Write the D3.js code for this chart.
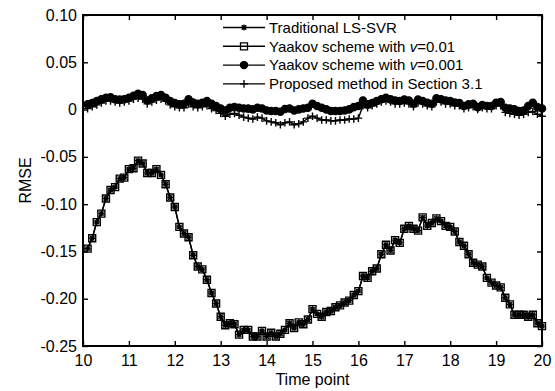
<!DOCTYPE html>
<html>
<head>
<meta charset="utf-8">
<script src="https://cdn.jsdelivr.net/npm/d3@7"></script>
<style>
  body { margin: 0; background: #fff; }
  svg { font-family: "Liberation Sans", Arial, Helvetica, sans-serif; }
</style>
</head>
<body>
<svg width="555" height="391"></svg>
<script>
// x categories: 10.1 .. 20.0 in steps of 0.1
const timePoints = d3.range(1, 101).map(i => +(10 + i / 10).toFixed(1));

const xTicks = [10, 11, 12, 13, 14, 15, 16, 17, 18, 19, 20];
const yTicks = [0.10, 0.05, 0, -0.05, -0.10, -0.15, -0.20, -0.25];

// Yaakov scheme, v=0.01 (squares)
const yaakovNu01 = [
  -0.147, -0.136, -0.119, -0.110, -0.094, -0.085, -0.082, -0.073, -0.072, -0.063,
  -0.062, -0.054, -0.057, -0.067, -0.067, -0.063, -0.069, -0.079, -0.093, -0.103,
  -0.124, -0.131, -0.135, -0.154, -0.166, -0.169, -0.180, -0.194, -0.205, -0.219,
  -0.228, -0.226, -0.227, -0.238, -0.233, -0.233, -0.240, -0.240, -0.234, -0.240,
  -0.236, -0.240, -0.237, -0.233, -0.226, -0.231, -0.225, -0.227, -0.222, -0.211,
  -0.216, -0.219, -0.214, -0.213, -0.209, -0.207, -0.204, -0.202, -0.196, -0.192,
  -0.176, -0.178, -0.171, -0.168, -0.153, -0.143, -0.149, -0.138, -0.141, -0.126,
  -0.123, -0.126, -0.128, -0.114, -0.123, -0.120, -0.115, -0.118, -0.123, -0.124,
  -0.129, -0.140, -0.144, -0.153, -0.162, -0.164, -0.166, -0.178, -0.183, -0.186,
  -0.188, -0.199, -0.206, -0.217, -0.217, -0.217, -0.219, -0.217, -0.226, -0.229
];

// Traditional LS-SVR sits right under the v=0.01 curve in the picture
const traditional = yaakovNu01.slice();

// Yaakov scheme, v=0.001 (filled circles)
const yaakovNu001 = [
  0.0055, 0.0070, 0.0090, 0.0110, 0.0125, 0.0130, 0.0110, 0.0105, 0.0110, 0.0125,
  0.0147, 0.0167, 0.0153, 0.0097, 0.0120, 0.0143, 0.0153, 0.0125, 0.0090, 0.0070,
  0.0055, 0.0062, 0.0108, 0.0075, 0.0062, 0.0072, 0.0090, 0.0062, 0.0037, 0.0012,
  -0.0009, 0.0019, 0.0026, 0.0019, 0.0012, 0.0010, 0.0002, 0.0019, 0.0012, -0.0009,
  -0.0016, -0.0016, -0.0023, 0.0006, 0.0012, -0.0009, 0.0002, 0.0012, 0.0019, 0.0062,
  0.0037, 0.0019, 0.0002, -0.0016, -0.0016, -0.0016, -0.0009, 0.0002, 0.0026, 0.0037,
  0.0097, 0.0055, 0.0070, 0.0090, 0.0110, 0.0125, 0.0108, 0.0097, 0.0090, 0.0105,
  0.0097, 0.0062, 0.0105, 0.0090, 0.0072, 0.0062, 0.0120, 0.0110, 0.0097, 0.0090,
  0.0075, 0.0070, 0.0037, 0.0055, 0.0062, 0.0026, 0.0048, 0.0037, 0.0037, 0.0072,
  0.0080, 0.0019, 0.0012, 0.0002, -0.0016, -0.0009, 0.0037, 0.0072, 0.0026, 0.0012
];

// Proposed method in Section 3.1 (plus)
const proposed = [
  0.001, 0.003, 0.005, 0.007, 0.009, 0.009, 0.008, 0.007, 0.008, 0.009,
  0.011, 0.012, 0.011, 0.006, 0.008, 0.010, 0.011, 0.009, 0.005, 0.003,
  0.002, 0.002, 0.006, 0.003, 0.002, 0.003, 0.004, 0.001, -0.001, -0.004,
  -0.007, -0.005, -0.004, -0.006, -0.008, -0.009, -0.010, -0.008, -0.009, -0.012,
  -0.013, -0.014, -0.016, -0.014, -0.013, -0.016, -0.015, -0.013, -0.009, -0.007,
  -0.009, -0.011, -0.011, -0.012, -0.012, -0.011, -0.011, -0.010, -0.010, -0.009,
  0.004, 0.002, 0.004, 0.006, 0.008, 0.009, 0.008, 0.006, 0.006, 0.007,
  0.006, 0.003, 0.007, 0.006, 0.004, 0.003, 0.008, 0.008, 0.006, 0.006,
  0.004, 0.004, 0.001, 0.002, 0.003, 0.000, 0.002, 0.001, 0.001, 0.004,
  0.004, -0.003, -0.004, -0.005, -0.006, -0.005, -0.003, -0.002, -0.005, -0.007
];

const seriesNames = [
  ['Traditional LS-SVR'],
  ['Yaakov scheme with ', 'v', '=0.01'],
  ['Yaakov scheme with ', 'v', '=0.001'],
  ['Proposed method in Section 3.1']
];

// marker paths, centred on 0,0
const markers = {
  asterisk: 'M-3,0H3M0,-3V3M-2.2,-2.2L2.2,2.2M-2.2,2.2L2.2,-2.2',
  square: 'M-3.5,-3.5H3.5V3.5H-3.5Z',
  circle: d3.symbol(d3.symbolCircle, 40)(),
  plus: 'M-3.8,0H3.8M0,-3.8V3.8'
};

const series = [
  {values: traditional, marker: 'asterisk', fill: 'none'},
  {values: yaakovNu01, marker: 'square', fill: 'none'},
  {values: yaakovNu001, marker: 'circle', fill: '#000'},
  {values: proposed, marker: 'plus', fill: 'none'}
];

const svg = d3.select('svg');
const margin = {top: 15, right: 13, bottom: 45, left: 83};
const width = +svg.attr('width') - margin.left - margin.right;
const height = +svg.attr('height') - margin.top - margin.bottom;
const g = svg.append('g').attr('transform', `translate(${margin.left},${margin.top})`);

const x = d3.scaleLinear().domain([10, 20]).range([0, width]);
const y = d3.scaleLinear().domain([-0.25, 0.10]).range([height, 0]);

const fmtY = d => d === 0 ? '0' : d.toFixed(2);

// axes, MATLAB style: inward ticks on all four sides
function styleAxis (sel) {
  sel.select('.domain').remove();
  sel.selectAll('.tick line').attr('stroke', '#000').attr('stroke-width', 1.4);
  sel.selectAll('.tick text').attr('fill', '#000').attr('font-size', 16);
}

g.append('g')
  .attr('transform', `translate(0,${height})`)
  .call(d3.axisBottom(x).tickValues(xTicks).tickFormat(d3.format('d')).tickSizeInner(-5).tickSizeOuter(0).tickPadding(9))
  .call(styleAxis);
g.append('g')
  .call(d3.axisTop(x).tickValues(xTicks).tickFormat('').tickSizeInner(-5).tickSizeOuter(0))
  .call(styleAxis);
g.append('g')
  .call(d3.axisLeft(y).tickValues(yTicks).tickFormat(fmtY).tickSizeInner(-5).tickSizeOuter(0).tickPadding(6))
  .call(styleAxis);
g.append('g')
  .attr('transform', `translate(${width},0)`)
  .call(d3.axisRight(y).tickValues(yTicks).tickFormat('').tickSizeInner(-5).tickSizeOuter(0))
  .call(styleAxis);

g.append('rect')
  .attr('width', width)
  .attr('height', height)
  .attr('fill', 'none')
  .attr('stroke', '#000')
  .attr('stroke-width', 2);

// lines + markers
const line = d3.line()
  .x((d, i) => x(timePoints[i]))
  .y(d => y(d));

const plot = g.append('g').attr('class', 'series');
series.forEach(s => {
  const sg = plot.append('g');
  sg.append('path')
    .attr('d', line(s.values))
    .attr('fill', 'none')
    .attr('stroke', '#000')
    .attr('stroke-width', 1.4);
  sg.selectAll('path.mk')
    .data(s.values).enter()
    .append('path')
    .attr('class', 'mk')
    .attr('transform', (d, i) => `translate(${x(timePoints[i])},${y(d)})`)
    .attr('d', markers[s.marker])
    .attr('fill', s.fill)
    .attr('stroke', '#000')
    .attr('stroke-width', 1.4);
});

// legend (no box)
const legend = g.append('g').attr('transform', 'translate(140,12.5)');
const rowH = 18.8;
series.forEach((s, i) => {
  const row = legend.append('g').attr('transform', `translate(0,${i * rowH})`);
  row.append('line')
    .attr('x1', 0).attr('x2', 42)
    .attr('stroke', '#000').attr('stroke-width', 1.4);
  row.append('path')
    .attr('transform', 'translate(21,0)')
    .attr('d', markers[s.marker])
    .attr('fill', s.fill)
    .attr('stroke', '#000')
    .attr('stroke-width', 1.3);
  const t = row.append('text')
    .attr('x', 46)
    .attr('dy', '0.35em')
    .attr('font-size', 15);
  seriesNames[i].forEach((part, k) => {
    t.append('tspan')
      .attr('font-style', k === 1 ? 'italic' : null)
      .text(part);
  });
});

// axis titles
svg.append('text')
  .attr('x', margin.left + width / 2)
  .attr('y', 385)
  .attr('text-anchor', 'middle')
  .attr('font-size', 16)
  .text('Time point');

svg.append('text')
  .attr('transform', `translate(31,${margin.top + height / 2}) rotate(-90)`)
  .attr('text-anchor', 'middle')
  .attr('font-size', 16)
  .text('RMSE');
</script>
</body>
</html>
